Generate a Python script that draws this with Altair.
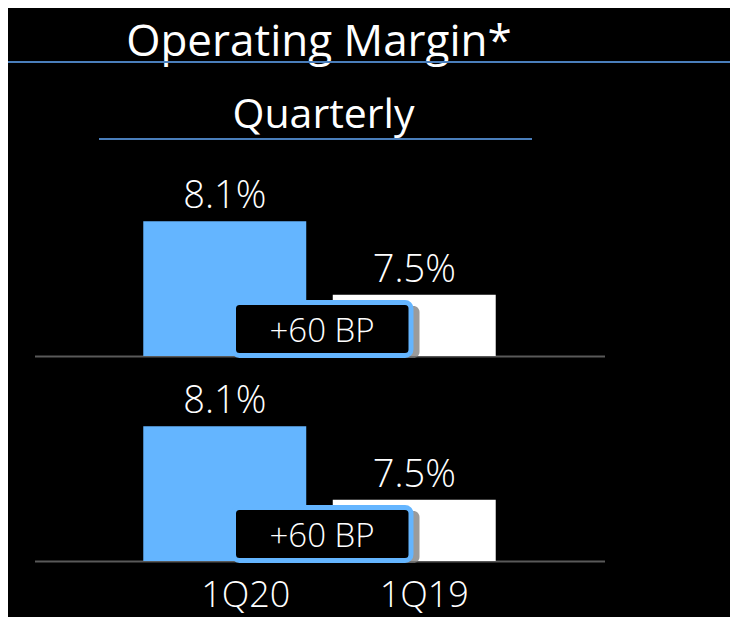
import altair as alt
import pandas as pd

# ---------------- data ----------------
TITLE = "Operating Margin*"
SUBTITLE = "Quarterly"
categories = ["1Q20", "1Q19"]
margins = [8.1, 7.5]
bar_colors = ["#64B5FF", "#FFFFFF"]
axis_base = 7.0
axis_top = 8.6

bp_change = round((margins[0] - margins[1]) * 100)
badge_text = f"+{bp_change} BP"

df = pd.DataFrame({
    "quarter": categories,
    "margin": margins,
    "label": [f"{m}%" for m in margins],
})
badge_df = pd.DataFrame({"text": [badge_text]})
title_df = pd.DataFrame({"title": [TITLE], "subtitle": [SUBTITLE]})

# ---------------- style ----------------
W, H = 570, 196
FONT = "Open Sans"
BLUE = "#64B5FF"
LINE_BLUE = "#4A7EBB"
GRAY = "#595959"


def panel(show_title, show_labels):
    axis_kwargs = dict(
        title=None, ticks=False, domain=True, domainColor=GRAY, domainWidth=2,
        grid=False, labelAngle=0,
    )
    if show_labels:
        axis_kwargs.update(
            labels=True, labelFont=FONT, labelFontWeight=300, labelFontSize=36,
            labelColor="white", labelPadding=17,
            labelOffset={"condition": {"test": "datum.value == '1Q20'", "value": 21}, "value": 10},
        )
    else:
        axis_kwargs.update(labels=False)

    x = alt.X("quarter:N", sort=categories,
              scale=alt.Scale(paddingInner=0.14, paddingOuter=0.574),
              axis=alt.Axis(**axis_kwargs))
    y = alt.Y("margin:Q", scale=alt.Scale(domain=[axis_base, axis_top], zero=False, nice=False),
              axis=None)

    base = alt.Chart(df)
    bars = base.mark_bar().encode(
        x=x, y=y, y2=alt.datum(axis_base),
        color=alt.Color("quarter:N", scale=alt.Scale(domain=categories, range=bar_colors), legend=None),
    )
    labels = base.mark_text(
        dy=-13, baseline="alphabetic", align="center", font=FONT, fontWeight=300,
        fontSize=38, color="white",
    ).encode(x=x, y=y, text="label:N")

    b = alt.Chart(badge_df)
    shadow = b.mark_rect(cornerRadius=6, fill="#7a7a7a", opacity=0.75).encode(
        x=alt.value(204), x2=alt.value(385), y=alt.value(146), y2=alt.value(198))
    badge = b.mark_rect(cornerRadius=6, fill="black", stroke=BLUE, strokeWidth=5).encode(
        x=alt.value(199), x2=alt.value(376.5), y=alt.value(142.5), y2=alt.value(195.5))
    badge_label = b.mark_text(
        font=FONT, fontWeight=300, fontSize=33, color="white", align="center",
        baseline="alphabetic").encode(
        x=alt.value(287.5), y=alt.value(181.7), text="text:N")

    layers = [bars, labels, shadow, badge, badge_label]

    if show_title:
        t = alt.Chart(title_df)
        title = t.mark_text(font=FONT, fontSize=44, color="white", align="center",
                            baseline="alphabetic").encode(
            x=alt.value(284.5), y=alt.value(-104.5), text="title:N")
        title_line = t.mark_rule(color=LINE_BLUE, strokeWidth=2).encode(
            x=alt.value(-30), x2=alt.value(700), y=alt.value(-98))
        sub = t.mark_text(font=FONT, fontSize=41, color="white", align="center",
                          baseline="alphabetic").encode(
            x=alt.value(289), y=alt.value(-32), text="subtitle:N")
        sub_line = t.mark_rule(color=LINE_BLUE, strokeWidth=2).encode(
            x=alt.value(64.5), x2=alt.value(497.5), y=alt.value(-21))
        layers = [title, title_line, sub, sub_line] + layers

    return alt.layer(*layers).properties(width=W, height=H)


chart = alt.vconcat(
    panel(True, False), panel(False, True), spacing=9, bounds="flush"
).properties(
    autosize=alt.AutoSizeParams(type="none"),
    padding={"left": 26.5, "top": 152, "right": 125.5, "bottom": 457},
).configure(background="black").configure_view(stroke=None)

chart.save("out.html", embed_options={"renderer": "svg", "actions": False})
